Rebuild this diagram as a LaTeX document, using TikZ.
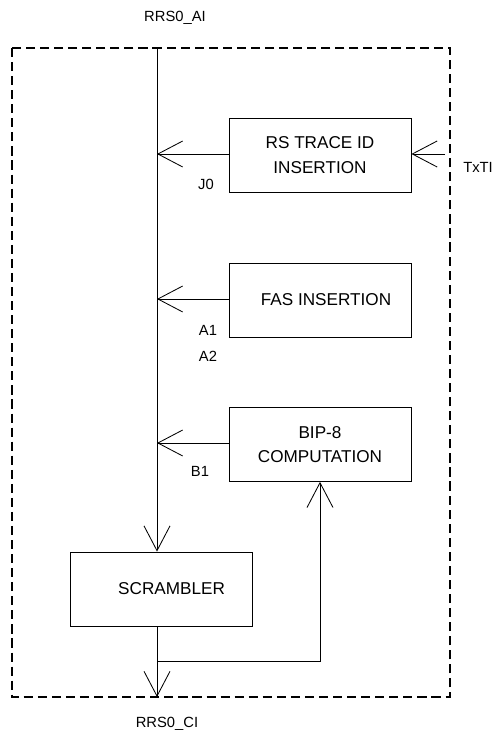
\documentclass[tikz,border=0pt]{standalone}
\usepackage{fontspec}
\setmainfont{Liberation Sans}
\usetikzlibrary{arrows.meta}
\begin{document}
\begin{tikzpicture}[
  font=\fontsize{10.5}{12.5}\selectfont,
  block/.style={draw, line width=.6pt, align=center,
                font=\fontsize{12.2}{14.5}\selectfont,
                minimum width=45.5mm, minimum height=18.5mm, inner sep=0pt},
  frame/.style={draw, line width=1.1pt, dash pattern=on 6.5pt off 3.5pt},
  line/.style={draw, line width=.6pt},
  flow/.style={line, -{Straight Barb[length=6.2mm, width=6.5mm, line width=.6pt]}},
  lbl/.style={inner sep=0pt}
]
\useasboundingbox (0,0) rectangle (12.55,-18.4);

% outer dashed boundary
\draw[frame] (0.30,-1.20) rectangle (11.25,-17.425);

% blocks
\node[block] (rs) at (8.0,-3.875) {RS TRACE ID\\[3.5pt]INSERTION};
\node[block] (fas) at (8.0,-7.5) {\hspace*{3mm}FAS INSERTION};
\node[block] (bip) at (8.0,-11.11) {BIP-8\\[3pt]COMPUTATION};
\node[block] (scr) at (4.04,-14.725) {\hspace*{5mm}SCRAMBLER};

% access points
\coordinate (ai) at (3.925,-1.20);
\coordinate (ci) at (3.925,-17.425);
\coordinate (txti) at (11.125,-3.85);
\coordinate (tap) at (3.925,-16.525);
\node[lbl] (ailbl) at (4.375,-0.45) {RRS0\_AI};
\node[lbl] (cilbl) at (4.175,-18.1) {RRS0\_CI};
\node[lbl] (txtilbl) at (11.95,-4.175) {TxTI};

% main signal path
\draw[flow] (ai) -- (ai |- scr.north);
\draw[flow] (ai |- scr.south) -- (ci);

% overhead insertion into the main path
\draw[flow] (rs.west |- txti) -- (ai |- txti);
\draw[flow] (fas.west |- 0,-7.475) -- (ai |- 0,-7.475);
\draw[flow] (bip.west |- 0,-11.075) -- (ai |- 0,-11.075);
\draw[flow] (txti) -- (rs.east |- txti);

% BIP-8 feedback from scrambler output
\draw[flow] (tap) -| (bip.south);

% byte labels
\node[lbl] (j0) at (5.15,-4.6) {J0};
\node[lbl] (a1) at (5.2,-8.25) {A1};
\node[lbl] (a2) at (5.2,-8.9) {A2};
\node[lbl] (b1) at (5.0,-11.775) {B1};
\end{tikzpicture}
\end{document}
